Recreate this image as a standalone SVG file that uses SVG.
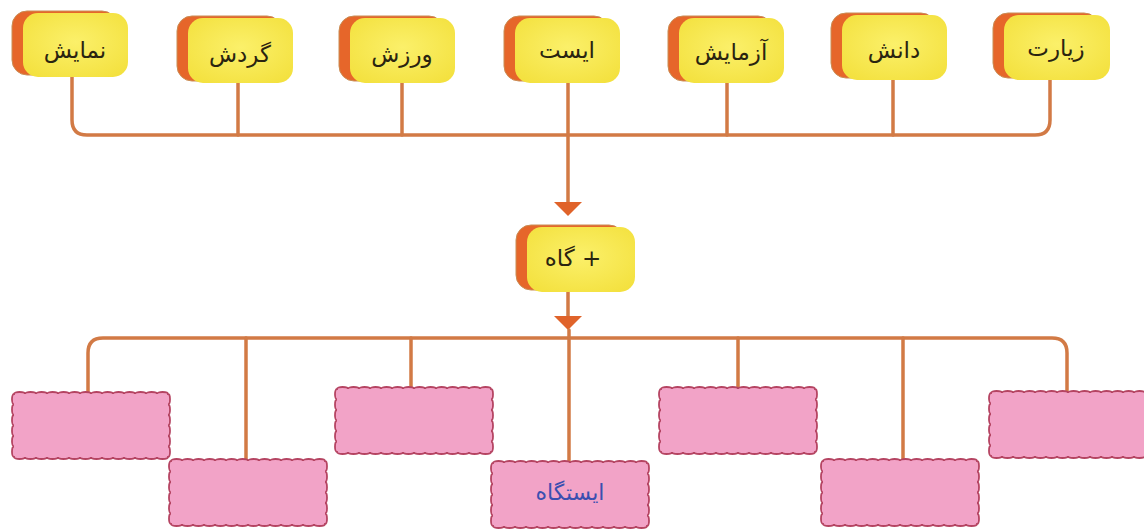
<svg xmlns="http://www.w3.org/2000/svg" xmlns:xlink="http://www.w3.org/1999/xlink" width="1144" height="529" viewBox="0 0 1144 529">
<style>
.sh{fill:#e6662a;stroke:#c98d55;stroke-width:1}
.nd{fill:url(#yg)}
.tx{font-family:"DejaVu Sans",sans-serif;font-size:23px;fill:#2a2410;text-anchor:middle}
.ln{fill:none;stroke:#d27a45;stroke-width:3.5;stroke-linecap:round}
.bx{fill:#f2a3c7;stroke:#b54462;stroke-width:1.8}
</style>
<defs>
<radialGradient id="yg" cx="0.5" cy="0.45" r="0.7">
<stop offset="0" stop-color="#fbf06a"/>
<stop offset="1" stop-color="#f3e03c"/>
</radialGradient>
<path id="wave" d="M0 0 a5.5 2 0 0 1 11 0 a5.5 2 0 0 1 11 0 a5.5 2 0 0 1 11 0 a5.5 2 0 0 1 11 0 a5.5 2 0 0 1 11 0 a5.5 2 0 0 1 11 0 a5.5 2 0 0 1 11 0 a5.5 2 0 0 1 11 0 a5.5 2 0 0 1 11 0 a5.5 2 0 0 1 11 0 a5.5 2 0 0 1 11 0 a5.5 2 0 0 1 11 0 a5.5 2 0 0 1 11 0 a5.5 2 0 0 1 11 0 a2 5.25 0 0 1 0 10.5 a2 5.25 0 0 1 0 10.5 a2 5.25 0 0 1 0 10.5 a2 5.25 0 0 1 0 10.5 a2 5.25 0 0 1 0 10.5 a2 5.25 0 0 1 0 10.5 a5.5 2 0 0 1 -11 0 a5.5 2 0 0 1 -11 0 a5.5 2 0 0 1 -11 0 a5.5 2 0 0 1 -11 0 a5.5 2 0 0 1 -11 0 a5.5 2 0 0 1 -11 0 a5.5 2 0 0 1 -11 0 a5.5 2 0 0 1 -11 0 a5.5 2 0 0 1 -11 0 a5.5 2 0 0 1 -11 0 a5.5 2 0 0 1 -11 0 a5.5 2 0 0 1 -11 0 a5.5 2 0 0 1 -11 0 a5.5 2 0 0 1 -11 0 a2 5.25 0 0 1 0 -10.5 a2 5.25 0 0 1 0 -10.5 a2 5.25 0 0 1 0 -10.5 a2 5.25 0 0 1 0 -10.5 a2 5.25 0 0 1 0 -10.5 a2 5.25 0 0 1 0 -10.5 Z"/>
</defs>
<rect width="1144" height="529" fill="#ffffff"/>

<g id="connectors">
<path class="ln" d="M72 77 V120 Q72 135 87 135 H1035 Q1050 135 1050 120 V80"/>
<path class="ln" d="M238 83 V135"/>
<path class="ln" d="M402 83 V135"/>
<path class="ln" d="M727 83 V135"/>
<path class="ln" d="M893 80 V135"/>
<path class="ln" d="M568 83 V202"/>
<path d="M554 202 L582 202 L568 216 Z" fill="#e0632a"/>
<path class="ln" d="M568 292 V316"/>
<path d="M554 316 L582 316 L568 330 Z" fill="#e0632a"/>
<path class="ln" d="M88 393 V353 Q88 338 103 338 H1052 Q1067 338 1067 353 V392"/>
<path class="ln" d="M246 338 V460"/>
<path class="ln" d="M411 338 V388"/>
<path class="ln" d="M569 330 V462"/>
<path class="ln" d="M738 338 V388"/>
<path class="ln" d="M903 338 V460"/>
</g>

<g id="n-namayesh">
<rect class="sh" x="12" y="11" width="105" height="64" rx="15"/>
<rect class="nd" x="23" y="13" width="105" height="64" rx="15"/>
<text class="tx" x="75" y="58">نمایش</text>
</g>
<g id="n-gardesh">
<rect class="sh" x="177" y="16" width="105" height="65" rx="15"/>
<rect class="nd" x="188" y="18" width="105" height="65" rx="15"/>
<text class="tx" x="240" y="62">گردش</text>
</g>
<g id="n-varzesh">
<rect class="sh" x="339" y="16" width="105" height="65" rx="15"/>
<rect class="nd" x="350" y="18" width="105" height="65" rx="15"/>
<text class="tx" x="402" y="62">ورزش</text>
</g>
<g id="n-ist">
<rect class="sh" x="504" y="16" width="105" height="65" rx="15"/>
<rect class="nd" x="515" y="18" width="105" height="65" rx="15"/>
<text class="tx" x="567" y="58">ایست</text>
</g>
<g id="n-azmayesh">
<rect class="sh" x="668" y="16" width="105" height="65" rx="15"/>
<rect class="nd" x="679" y="18" width="105" height="65" rx="15"/>
<text class="tx" x="731" y="60">آزمایش</text>
</g>
<g id="n-danesh">
<rect class="sh" x="831" y="13" width="105" height="65" rx="15"/>
<rect class="nd" x="842" y="15" width="105" height="65" rx="15"/>
<text class="tx" x="894" y="58">دانش</text>
</g>
<g id="n-ziarat">
<rect class="sh" x="993" y="13" width="106" height="65" rx="15"/>
<rect class="nd" x="1004" y="15" width="106" height="65" rx="15"/>
<text class="tx" x="1056" y="56">زیارت</text>
</g>
<g id="n-gah">
<rect class="sh" x="516" y="225" width="108" height="65" rx="15"/>
<rect class="nd" x="527" y="227" width="108" height="65" rx="15"/>
<text class="tx" x="573" y="266" style="direction:rtl;unicode-bidi:embed">+ گاه</text>
</g>

<g id="b1"><use xlink:href="#wave" href="#wave" x="14" y="394" class="bx"/></g>
<g id="b2"><use xlink:href="#wave" href="#wave" x="171" y="461" class="bx"/></g>
<g id="b3"><use xlink:href="#wave" href="#wave" x="337" y="389" class="bx"/></g>
<g id="b4"><use xlink:href="#wave" href="#wave" x="493" y="463" class="bx"/>
<text x="570" y="500" style="font-family:'DejaVu Sans',sans-serif;font-size:22px;fill:#3b4fb0;text-anchor:middle">ایستگاه</text></g>
<g id="b5"><use xlink:href="#wave" href="#wave" x="661" y="389" class="bx"/></g>
<g id="b6"><use xlink:href="#wave" href="#wave" x="823" y="461" class="bx"/></g>
<g id="b7"><use xlink:href="#wave" href="#wave" x="991" y="393" class="bx"/></g>
</svg>
